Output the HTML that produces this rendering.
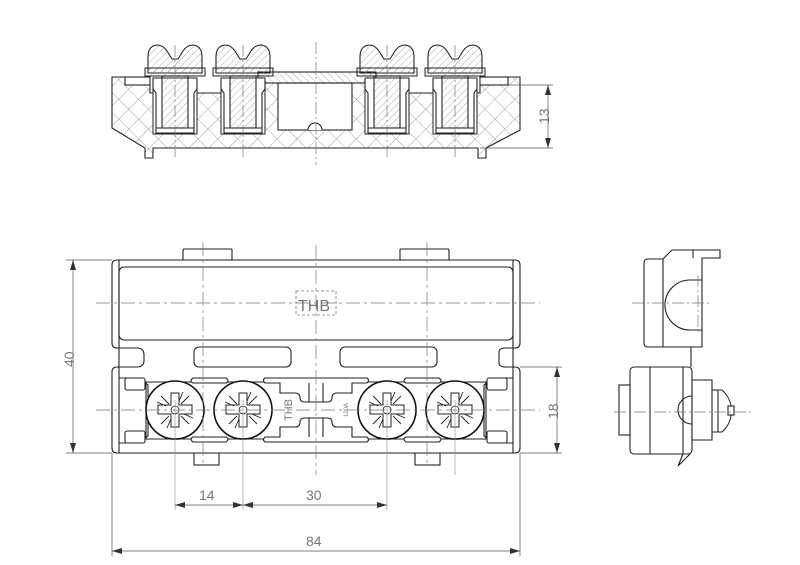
<!DOCTYPE html>
<html><head><meta charset="utf-8"><style>
html,body{margin:0;padding:0;background:#fff;}
svg{display:block;}
text{font-family:"Liberation Sans",sans-serif;fill:#777;}
</style></head><body>
<svg width="800" height="565" viewBox="0 0 800 565" xmlns="http://www.w3.org/2000/svg">
<defs>
<pattern id="x" width="14" height="14" patternUnits="userSpaceOnUse" patternTransform="rotate(45)">
<path d="M0 0H14M0 0V14" stroke="#888" stroke-width="0.8" fill="none"/>
</pattern>
<pattern id="h" width="5" height="5" patternUnits="userSpaceOnUse" patternTransform="rotate(45)">
<path d="M0 0V5" stroke="#888" stroke-width="0.7"/>
</pattern>
<pattern id="h2" width="5" height="5" patternUnits="userSpaceOnUse" patternTransform="rotate(-45)">
<path d="M0 0V5" stroke="#888" stroke-width="0.7"/>
</pattern>
<marker id="a" viewBox="0 0 10 6" refX="10" refY="3" markerWidth="10" markerHeight="6" orient="auto-start-reverse" markerUnits="userSpaceOnUse"><path d="M0 0L10 3L0 6z" fill="#333"/></marker>
<g id="scrS">
<path d="M-27 72V56Q-27 45-18 44Q-12 44-8 50L-3 58H3L8 50Q12 44 18 44Q27 45 27 56V72Z" fill="url(#h)" stroke="#222" stroke-width="1.1"/>
<rect x="-30" y="67" width="60" height="8" fill="url(#h)" stroke="#222" stroke-width="1"/>
<rect x="-13" y="75" width="26" height="52" fill="url(#h)" stroke="#222" stroke-width="1.1"/>
<path d="M-22 78V88L-19 92V132H19V92L22 88V78" fill="none" stroke="#222" stroke-width="1.1"/>
<path d="M-19 127H19" stroke="#222"/>
</g>
<g id="scrF">
<circle r="29" fill="#fff" stroke="#111" stroke-width="1.6"/>
<path d="M-4 -17H4V-5H17V4H4V17H-4V4H-17V-5H-4Z" fill="#fff" stroke="#222" stroke-width="1"/>
<path d="M-14 -14L-6 -6M14 -14L6 -6M-14 14L-6 6M14 14L6 6M-18 -8L-9 -4M18 8L9 4M8 -18L4 -9M-8 18L-4 9" stroke="#222" stroke-width="0.9"/>
<circle r="4" fill="none" stroke="#222" stroke-width="0.8"/>
</g>
</defs>

<!-- ===== SECTION VIEW ===== -->
<g stroke="#222" stroke-width="1.1">
<path d="M112 77H125V85H150V93H258V83H376V93H480V85H508V77H520V130L486 148V158H478V148H153V158H145V148L112 128Z" fill="url(#x)"/>
<rect x="278" y="83" width="74" height="47" fill="#fff"/>
<path d="M308 130A7 7 0 0 1 322 130" fill="#fff"/>
<rect x="258" y="72" width="118" height="11" fill="url(#h2)"/>
<rect x="125" y="77" width="25" height="8" fill="#fff"/>
<rect x="480" y="77" width="28" height="8" fill="#fff"/>
</g>
<g fill="#fff" stroke="#222" stroke-width="1">
<rect x="153" y="78" width="44" height="56"/><rect x="221" y="78" width="44" height="56"/>
<rect x="365" y="78" width="44" height="56"/><rect x="433" y="78" width="44" height="56"/>
</g>
<use href="#scrS" x="175" y="1"/><use href="#scrS" x="243" y="1"/>
<use href="#scrS" x="387" y="1"/><use href="#scrS" x="455" y="1"/>
<g stroke="#777" stroke-width="0.7" stroke-dasharray="12 3 2 3" fill="none">
<path d="M316 42V165M175 45V160M243 45V160M387 45V160M455 45V160"/>
</g>
<g stroke="#555" stroke-width="0.7" fill="none">
<path d="M508 85H553M480 148H553"/>
<path d="M548 85V148" marker-start="url(#a)" marker-end="url(#a)"/>
</g>
<text x="0" y="0" font-size="14" transform="translate(549 124) rotate(-90)">13</text>

<!-- ===== FRONT VIEW ===== -->
<g stroke="#222" stroke-width="1.1" fill="#fff">
<rect x="183" y="249" width="49" height="11" rx="1"/>
<rect x="400" y="249" width="49" height="11" rx="1"/>
<rect x="194" y="453" width="25" height="12"/>
<rect x="415" y="453" width="25" height="12"/>
<path d="M117 260H515Q520 260 520 265V343Q520 348 515 348H506Q499 348 499 352V363Q499 367 506 367H515Q520 367 520 372V448Q520 453 515 453H117Q112 453 112 448V372Q112 367 117 367H137Q144 367 144 360V355Q144 348 137 348H117Q112 348 112 343V265Q112 260 117 260Z"/>
<rect x="119" y="267" width="394" height="73" rx="5"/>
<rect x="194" y="347" width="97" height="20" rx="5"/>
<rect x="340" y="347" width="97" height="20" rx="5"/>
<path d="M119 260V453M513 260V453" fill="none"/>
<path d="M119 378H140L148 385V436L140 443H119" fill="none"/>
<path d="M513 378H492L484 385V436L492 443H513" fill="none"/>
<rect x="125" y="378" width="20" height="12" rx="2"/>
<rect x="125" y="431" width="20" height="12" rx="2"/>
<rect x="487" y="378" width="20" height="12" rx="2"/>
<rect x="487" y="431" width="20" height="12" rx="2"/>
<path d="M146 382H486V439H146Z" fill="none"/>
<path d="M193 378H226Q230 381 226 383H193Q189 381 193 378Z"/>
<path d="M193 442H226Q230 439 226 437H193Q189 439 193 442Z"/>
<path d="M406 378H439Q443 381 439 383H406Q402 381 406 378Z"/>
<path d="M406 442H439Q443 439 439 437H406Q402 439 406 442Z"/>
<path d="M265 378H367Q370 380 367 383H352V393H337Q332 393 332 398Q332 402 327 402H305Q300 402 300 398Q300 393 295 393H280V383H265Q262 380 265 378Z"/>
<path d="M265 442H367Q370 440 367 437H352V427H337Q332 427 332 422Q332 418 327 418H305Q300 418 300 422Q300 427 295 427H280V437H265Q262 440 265 442Z"/>
<path d="M309 383V402M323 383V402M309 418V437M323 418V437" fill="none"/>
</g>
<use href="#scrF" x="175" y="410"/><use href="#scrF" x="243" y="410"/>
<use href="#scrF" x="387" y="410"/><use href="#scrF" x="455" y="410"/>
<text font-size="11" transform="translate(292 421) rotate(-90)">THB</text>
<text font-size="6" transform="translate(348 417) rotate(-90)">120A</text>
<rect x="296" y="291" width="40" height="24" fill="none" stroke="#777" stroke-width="0.8" stroke-dasharray="3 2"/>
<text x="298" y="311" font-size="16">THB</text>
<g stroke="#777" stroke-width="0.7" stroke-dasharray="14 4 3 4" fill="none">
<path d="M96 303H540M96 410H540M316 245V475M203 242V467M427 242V467"/>
</g>
<g stroke="#888" stroke-width="0.6" fill="none">
<path d="M175 400V510M243 400V510M387 400V510M455 400V475"/>
</g>
<g stroke="#555" stroke-width="0.7" fill="none">
<path d="M112 453V556M520 453V556M66 260H112M66 453H112M520 367H562M520 453H562"/>
<path d="M73 260V453" marker-start="url(#a)" marker-end="url(#a)"/>
<path d="M557 367V453" marker-start="url(#a)" marker-end="url(#a)"/>
<path d="M175 505H243" marker-start="url(#a)" marker-end="url(#a)"/>
<path d="M243 505H387" marker-start="url(#a)" marker-end="url(#a)"/>
<path d="M112 551H520" marker-start="url(#a)" marker-end="url(#a)"/>
</g>
<text font-size="14" transform="translate(74 367) rotate(-90)">40</text>
<text font-size="14" transform="translate(558 419) rotate(-90)">18</text>
<text x="199" y="500" font-size="14">14</text>
<text x="306" y="500" font-size="14">30</text>
<text x="306" y="546" font-size="14">84</text>

<!-- ===== SIDE VIEW ===== -->
<g stroke="#222" stroke-width="1.1" fill="#fff">
<path d="M648 259H663L672 250H720V258H702V347H648Q644 347 644 343V263Q644 259 648 259Z"/>
<path d="M663 259V347M693 250V258" fill="none"/>
<path d="M702 280H690A25 25 0 0 0 690 330H702" fill="none"/>
<path d="M691 347V367" fill="none"/>
<rect x="630" y="367" width="62" height="87" rx="4"/>
<path d="M650 367V454M683 367V454M683 454L678 466L690 454" fill="none"/>
<rect x="619" y="385" width="11" height="50"/>
<path d="M692 380H712V390H722A28 28 0 0 1 722 432H712V440H692Z"/>
<path d="M712 390V432M718 390V432" fill="none"/>
<path d="M692 396A14 14 0 0 0 692 424" fill="none"/>
<rect x="728" y="406" width="6" height="9"/>
</g>
<g stroke="#777" stroke-width="0.7" stroke-dasharray="12 3 2 3" fill="none">
<path d="M632 303H712M614 412H752M698 275V335"/>
</g>
</svg>
</body></html>
